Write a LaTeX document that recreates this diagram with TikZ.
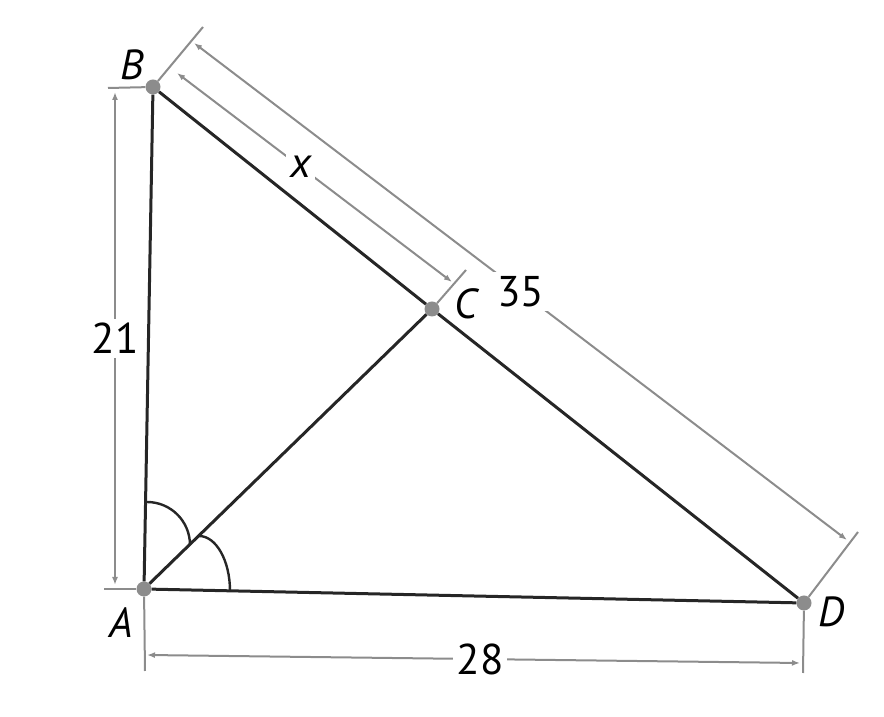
\documentclass[tikz,border=0pt]{standalone}
\usepackage{fontspec}
\setmainfont{PT Sans}
\usetikzlibrary{arrows.meta}

\tikzset{
  pt/.style={circle,fill=black!45,inner sep=0pt,minimum size=15pt},
  side/.style={draw=black!85,line width=3pt},
  ext/.style={draw=black!45,line width=2pt},
  dim/.style={draw=black!45,line width=2pt,
    {Latex[length=8pt,width=6pt]}-{Latex[length=8pt,width=6pt]}},
  lbl/.style={font=\fontsize{42}{48}\selectfont\itshape},
  num/.style={fill=white,inner sep=4pt,font=\fontsize{43}{48}\selectfont}
}

\begin{document}
\begin{tikzpicture}[x=1pt,y=1pt]
  \useasboundingbox (0,0) rectangle (884,717);

  \begin{scope}[every node/.style={pt}]
    \node (A) at (144,128) {};
    \node (B) at (153,630) {};
    \node (C) at (432,408) {};
    \node (D) at (804,114) {};
  \end{scope}

  % ends of the extension lines
  \coordinate (eBl) at (108,629);
  \coordinate (eAl) at (104,128);
  \coordinate (eAd) at (145,46);
  \coordinate (eDd) at (803,44);
  \coordinate (eBu) at (203,690);
  \coordinate (eCu) at (466,447);
  \coordinate (eDu) at (858,185);

  % ends of the dimension lines
  \coordinate (d21t) at (115,625);
  \coordinate (d21b) at (115,132);
  \coordinate (d28l) at (147,62);
  \coordinate (d28r) at (800,54);
  \coordinate (dxb) at (177,644);
  \coordinate (dxc) at (452,435);
  \coordinate (d35b) at (194,674);
  \coordinate (d35d) at (847,177);

  \begin{scope}[every edge/.style={side}]
    \path (A) edge (B);
    \path (A) edge (D);
    \path (B) edge (C);
    \path (C) edge (D);
    \path (A) edge (C);
  \end{scope}

  % angle marks
  \draw[side,line width=2.4pt] (147,215) arc[start angle=90,end angle=0,radius=43];
  \draw[side,line width=2.4pt] (199,181) arc[start angle=90,end angle=0,x radius=31,y radius=55];

  \begin{scope}[every edge/.style={ext}]
    \path (B) edge (eBl);
    \path (A) edge (eAl);
    \path (A) edge (eAd);
    \path (D) edge (eDd);
    \path (B) edge (eBu);
    \path (C) edge (eCu);
    \path (D) edge (eDu);
  \end{scope}

  \begin{scope}[every edge/.style={dim}]
    \path (d21t) edge node[num] {21} (d21b);
    \path (d28l) edge node[num,pos=0.51] {28} (d28r);
    \path (dxb)  edge node[num,pos=0.45] {\itshape x} (dxc);
    \path (d35b) edge node[num] {35} (d35d);
  \end{scope}

  \begin{scope}[every node/.style={lbl}]
    \node (lA) at (121,94)  {A};
    \node (lB) at (132,652) {B};
    \node (lC) at (466,413) {C};
    \node (lD) at (832,105) {D};
  \end{scope}

\end{tikzpicture}
\end{document}
